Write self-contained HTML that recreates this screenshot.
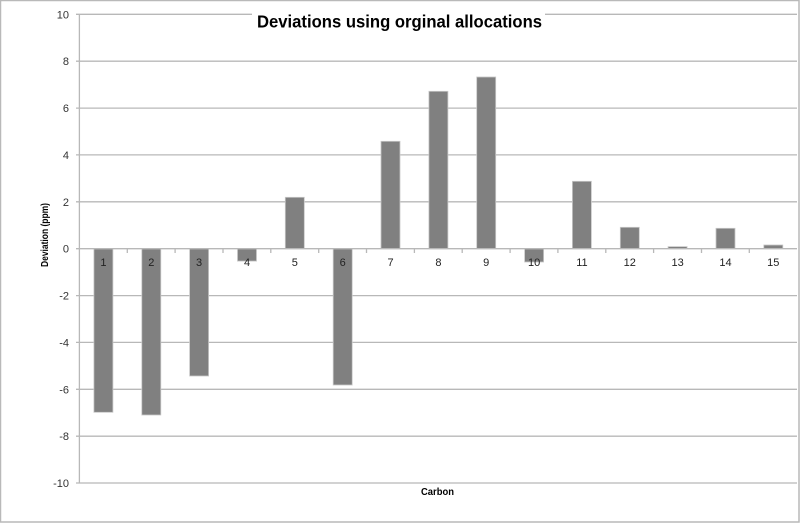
<!DOCTYPE html>
<html><head><meta charset="utf-8"><style>
html,body{margin:0;padding:0;background:#fff;}
svg{display:block;}
text{font-family:"Liberation Sans",sans-serif;}
</style></head><body>
<svg width="800" height="523" viewBox="0 0 800 523" xmlns="http://www.w3.org/2000/svg">
<rect x="0.5" y="0.5" width="798.5" height="521.5" fill="#fff" stroke="#b9b9b9" stroke-width="1.5"/>
<g stroke="#b8b8b8" stroke-width="1.3">
<line x1="76" y1="14.3" x2="797" y2="14.3"/>
<line x1="76" y1="61.2" x2="797" y2="61.2"/>
<line x1="76" y1="108.1" x2="797" y2="108.1"/>
<line x1="76" y1="154.9" x2="797" y2="154.9"/>
<line x1="76" y1="201.8" x2="797" y2="201.8"/>
<line x1="76" y1="295.6" x2="797" y2="295.6"/>
<line x1="76" y1="342.4" x2="797" y2="342.4"/>
<line x1="76" y1="389.3" x2="797" y2="389.3"/>
<line x1="76" y1="436.2" x2="797" y2="436.2"/>
<line x1="76" y1="483" x2="797" y2="483"/>
<line x1="79.4" y1="14.3" x2="79.4" y2="483"/>
</g>
<g fill="#808080" stroke="#c8c8c8" stroke-width="0.8">
<rect x="93.9" y="248.7" width="19" height="163.6"/>
<rect x="141.8" y="248.7" width="19" height="166.3"/>
<rect x="189.6" y="248.7" width="19" height="127.3"/>
<rect x="237.5" y="248.7" width="19" height="12.4"/>
<rect x="285.3" y="197.3" width="19" height="51.4"/>
<rect x="333.2" y="248.7" width="19" height="136.3"/>
<rect x="381" y="141.3" width="19" height="107.4"/>
<rect x="428.9" y="91.3" width="19" height="157.4"/>
<rect x="476.7" y="77" width="19" height="171.7"/>
<rect x="524.6" y="248.7" width="19" height="13.3"/>
<rect x="572.4" y="181.3" width="19" height="67.4"/>
<rect x="620.3" y="227.3" width="19" height="21.4"/>
<rect x="668.1" y="246.6" width="19" height="2.1"/>
<rect x="716" y="228.3" width="19" height="20.4"/>
<rect x="763.8" y="245" width="19" height="3.7"/>
</g>
<g stroke="#b8b8b8" stroke-width="1.3">
<line x1="76" y1="248.7" x2="797" y2="248.7"/>
<line x1="127.3" y1="248.7" x2="127.3" y2="253"/>
<line x1="175.1" y1="248.7" x2="175.1" y2="253"/>
<line x1="223" y1="248.7" x2="223" y2="253"/>
<line x1="270.8" y1="248.7" x2="270.8" y2="253"/>
<line x1="318.7" y1="248.7" x2="318.7" y2="253"/>
<line x1="366.5" y1="248.7" x2="366.5" y2="253"/>
<line x1="414.4" y1="248.7" x2="414.4" y2="253"/>
<line x1="462.2" y1="248.7" x2="462.2" y2="253"/>
<line x1="510.1" y1="248.7" x2="510.1" y2="253"/>
<line x1="557.9" y1="248.7" x2="557.9" y2="253"/>
<line x1="605.8" y1="248.7" x2="605.8" y2="253"/>
<line x1="653.6" y1="248.7" x2="653.6" y2="253"/>
<line x1="701.5" y1="248.7" x2="701.5" y2="253"/>
<line x1="749.3" y1="248.7" x2="749.3" y2="253"/>
</g>
<g font-size="11" fill="#333" text-anchor="end">
<text x="69" y="18.3">10</text>
<text x="69" y="65.2">8</text>
<text x="69" y="112.1">6</text>
<text x="69" y="158.9">4</text>
<text x="69" y="205.8">2</text>
<text x="69" y="252.7">0</text>
<text x="69" y="299.6">-2</text>
<text x="69" y="346.4">-4</text>
<text x="69" y="393.3">-6</text>
<text x="69" y="440.2">-8</text>
<text x="69" y="487">-10</text>
</g>
<g font-size="11" fill="#222" text-anchor="middle">
<text x="103.4" y="266">1</text>
<text x="151.3" y="266">2</text>
<text x="199.1" y="266">3</text>
<text x="247" y="266">4</text>
<text x="294.8" y="266">5</text>
<text x="342.7" y="266">6</text>
<text x="390.5" y="266">7</text>
<text x="438.4" y="266">8</text>
<text x="486.2" y="266">9</text>
<text x="534.1" y="266">10</text>
<text x="581.9" y="266">11</text>
<text x="629.8" y="266">12</text>
<text x="677.6" y="266">13</text>
<text x="725.5" y="266">14</text>
<text x="773.3" y="266">15</text>
</g>
<rect x="252" y="6" width="293" height="26" fill="#fff"/>
<text x="399.5" y="27.5" font-size="17.5" font-weight="bold" fill="#000" text-anchor="middle" textLength="285" lengthAdjust="spacingAndGlyphs">Deviations using orginal allocations</text>
<text x="437.5" y="495" font-size="10.5" font-weight="bold" fill="#000" text-anchor="middle" textLength="33" lengthAdjust="spacingAndGlyphs">Carbon</text>
<text transform="translate(48,235) rotate(-90)" font-size="10.5" font-weight="bold" fill="#000" text-anchor="middle" textLength="64" lengthAdjust="spacingAndGlyphs">Deviation (ppm)</text>
</svg>
</body></html>
